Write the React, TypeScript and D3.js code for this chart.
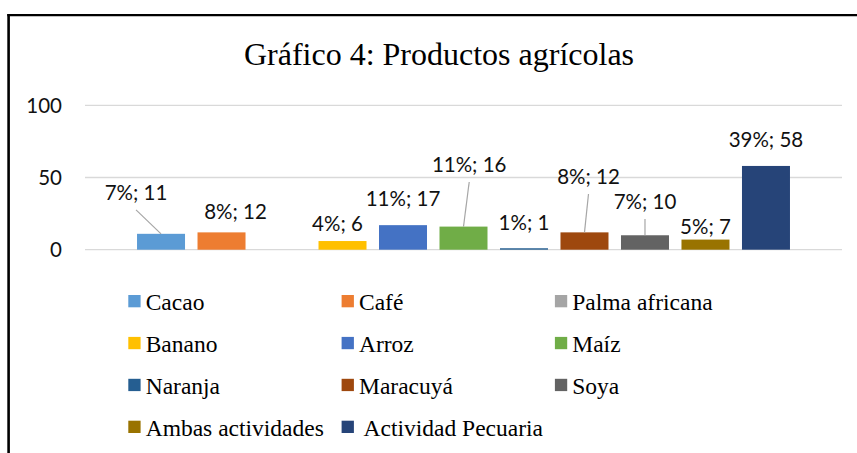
import React from "react";
import * as d3 from "d3";

const categories = [
  "Cacao", "Café", "Palma africana", "Banano", "Arroz", "Maíz",
  "Naranja", "Maracuyá", "Soya", "Ambas actividades", "Actividad Pecuaria",
];
const values = [11, 12, 0, 6, 17, 16, 1, 12, 10, 7, 58];
const percents = ["7%", "8%", "", "4%", "11%", "11%", "1%", "8%", "7%", "5%", "39%"];
const yTicks = [0, 50, 100];
const title = "Gráfico 4: Productos agrícolas";

const colors = [
  "#5b9bd5", "#ed7d31", "#a5a5a5", "#ffc000", "#4472c4", "#70ad47",
  "#255e91", "#9e480e", "#636363", "#997300", "#264478",
];
// label placement offsets (dx, dy of baseline relative to bar top centre) and leader lines
const labelDx = [-25, 14, 0, -5, 0, 5.7, 0, 4, 0, 0, 0];
const labelDy = [-34, -13.7, 0, -9.6, -18.8, -54.6, -18, -48.4, -26.3, -5.6, -18.5];
const hasLeader = [true, false, false, false, false, true, false, true, true, false, false];

const W = 857;
const H = 453;

export default function App() {
  const x = d3
    .scaleBand<string>()
    .domain(categories)
    .range([85, 842])
    .paddingInner(0.2066)
    .paddingOuter(0.86);
  const y = d3.scaleLinear().domain([0, 100]).range([249.7, 105.3]);
  const bw = x.bandwidth();

  const sans = "Lato, sans-serif";
  const serif = "Liberation Serif, serif";

  return (
    <svg
      width={W}
      height={H}
      style={{ position: "absolute", left: 0, top: 0, display: "block", background: "#fff" }}
    >
      <rect x={0} y={0} width={W} height={H} fill="#fff" />
      {/* frame */}
      <line x1={7.3} y1={15.2} x2={W} y2={15.2} stroke="#000" strokeWidth={2.3} />
      <line x1={8.6} y1={14} x2={8.6} y2={H} stroke="#000" strokeWidth={2.6} />

      <text x={439} y={65} textAnchor="middle" style={{ fontFamily: serif, fontSize: 32 }} fill="#000">
        {title}
      </text>

      {/* gridlines */}
      {yTicks.map((t) => (
        <g key={t}>
          <line x1={85} x2={842} y1={y(t)} y2={y(t)} stroke="#d9d9d9" strokeWidth={1.3} />
          <text x={62} y={y(t) + 7.2} textAnchor="end" style={{ fontFamily: sans, fontSize: 20.5 }} fill="#111">
            {t}
          </text>
        </g>
      ))}

      {/* bars */}
      {categories.map((c, i) => (
        <rect
          key={c}
          x={x(c)}
          y={y(values[i])}
          width={bw}
          height={y(0) - y(values[i])}
          fill={colors[i]}
        />
      ))}

      {/* leader lines */}
      {categories.map((c, i) => {
        if (!hasLeader[i]) return null;
        const cx = (x(c) as number) + bw / 2;
        const top = y(values[i]);
        const lx = cx + labelDx[i];
        const ly = top + labelDy[i] + 10;
        return <line key={c} x1={lx} y1={ly} x2={cx} y2={top} stroke="#a6a6a6" strokeWidth={1.2} />;
      })}

      {/* data labels */}
      {categories.map((c, i) => {
        if (values[i] === 0) return null;
        const cx = (x(c) as number) + bw / 2;
        const top = y(values[i]);
        return (
          <text
            key={c}
            x={cx + labelDx[i]}
            y={top + labelDy[i]}
            textAnchor="middle"
            style={{ fontFamily: sans, fontSize: 20.5 }}
            fill="#111"
          >
            {`${percents[i]}; ${values[i]}`}
          </text>
        );
      })}

      {/* legend */}
      {categories.map((c, i) => {
        const col = i % 3;
        const row = Math.floor(i / 3);
        const sx = 128.3 + col * 213.3;
        const by = 310 + row * 41.9;
        const label = c === "Actividad Pecuaria" ? " " + c : c;
        return (
          <g key={c}>
            <rect x={sx} y={by - 15} width={12.3} height={12.3} fill={colors[i]} />
            <text
              x={sx + 17.4}
              y={by}
              style={{ fontFamily: serif, fontSize: 23.5, whiteSpace: "pre" }}
              fill="#000"
            >
              {label}
            </text>
          </g>
        );
      })}
    </svg>
  );
}
